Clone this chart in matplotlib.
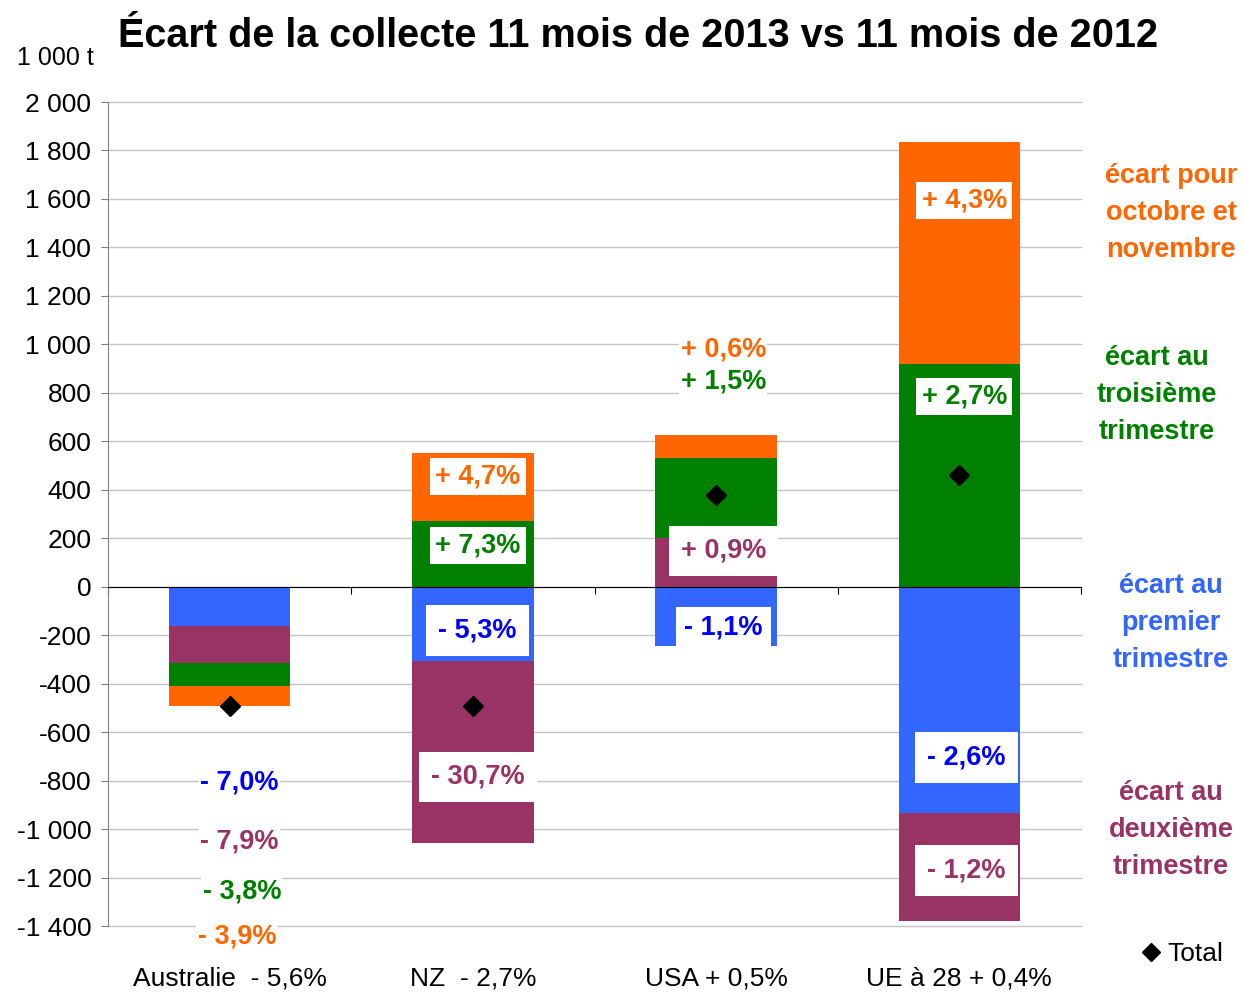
import numpy as np
import matplotlib.pyplot as plt

plt.rcParams['font.family'] = ['Liberation Sans', 'DejaVu Sans']

# milliers de tonnes
categories = ['Australie  - 5,6%', 'NZ  - 2,7%', 'USA + 0,5%', 'UE à 28 + 0,4%']
q1 = [-164, -305, -246, -932]
q2 = [-152, -751, 203, -449]
q3 = [-95, 272, 330, 920]
octnov = [-82, 281, 94, 915]
total = [-493, -491, 379, 462]

q1_lbl = ['- 7,0%', '- 5,3%', '- 1,1%', '- 2,6%']
q2_lbl = ['- 7,9%', '- 30,7%', '+ 0,9%', '- 1,2%']
q3_lbl = ['- 3,8%', '+ 7,3%', '+ 1,5%', '+ 2,7%']
on_lbl = ['- 3,9%', '+ 4,7%', '+ 0,6%', '+ 4,3%']

bar_colors = ['#3366FF', '#993366', '#008000', '#FF6600']
txt_colors = ['#0000FF', '#993366', '#008000', '#FF6600']

# placement des etiquettes (x, y, marge du cadre blanc)
lbl_pos = [
    [(0.04, -808, 0.05), (1.02, -181, 0.45), (2.03, -169, 0.3), (3.03, -705, 0.45)],
    [(0.04, -1052, 0.05), (1.02, -784, 0.45), (2.03, 148, 0.45), (3.03, -1171, 0.45)],
    [(0.05, -1258, 0.05), (1.02, 169, 0.2), (2.03, 845, 0.05), (3.02, 784, 0.2)],
    [(0.03, -1443, 0.05), (1.02, 454, 0.2), (2.03, 977, 0.05), (3.02, 1592, 0.2)],
]

fig = plt.figure(figsize=(12.45, 9.92), dpi=100)
ax = fig.add_axes([108 / 1245, 66 / 992, 973 / 1245, 824 / 992])

x = np.arange(len(categories))
pos = np.zeros(len(x))
neg = np.zeros(len(x))
for vals, col in zip([q1, q2, q3, octnov], bar_colors):
    vals = np.array(vals, dtype=float)
    base = np.where(vals >= 0, pos, neg)
    ax.bar(x, vals, 0.5, bottom=base, color=col, zorder=2)
    pos += np.clip(vals, 0, None)
    neg += np.clip(vals, None, 0)

tot_line, = ax.plot(x, total, 'D', color='black', ms=10, zorder=6, label='Total')

for labels, col, layout in zip([q1_lbl, q2_lbl, q3_lbl, on_lbl], txt_colors, lbl_pos):
    for lab, (lx, ly, pad) in zip(labels, layout):
        ax.text(lx, ly, lab, color=col, fontsize=19.5, fontweight='bold',
                ha='center', va='center', zorder=5,
                bbox=dict(boxstyle='square,pad=%s' % pad, fc='white', ec='none'))

ax.set_xlim(-0.5, 3.5)
ax.set_ylim(-1400, 2000)
ax.set_yticks(range(-1400, 2001, 200))
ax.set_yticklabels([f'{v:,}'.replace(',', ' ') for v in range(-1400, 2001, 200)])
ax.yaxis.grid(True, color='#c4c4c4', lw=1)
ax.set_axisbelow(True)
for gl in ax.get_ygridlines():
    gl.set_clip_on(False)

ax.spines['top'].set_visible(False)
ax.spines['right'].set_visible(False)
ax.spines['left'].set_color('#808080')
ax.spines['bottom'].set_position(('data', 0))
ax.spines['bottom'].set_color('black')
ax.spines['bottom'].set_zorder(4)

ax.set_xticks([-0.5, 0.5, 1.5, 2.5, 3.5])
ax.set_xticklabels([])
ax.tick_params(axis='x', direction='out', length=5, color='black')
ax.tick_params(axis='y', direction='out', length=5, color='#808080', labelsize=19, pad=7)

for i, name in enumerate(categories):
    ax.annotate(name, (i, 0), xycoords=('data', 'axes fraction'), xytext=(0, -38),
                textcoords='offset points', ha='center', va='center', fontsize=19)

fig.text(55 / 1245, 1 - 58 / 992, '1 000 t', fontsize=18, ha='center', va='center')
fig.text(638 / 1245, 1 - 36 / 992, 'Écart de la collecte 11 mois de 2013 vs 11 mois de 2012',
         fontsize=28.5, fontweight='bold', ha='center', va='center')

side_notes = [
    ('écart pour\noctobre et\nnovembre', '#FF6600', 1171, 213),
    ('écart au\ntroisième\ntrimestre', '#008000', 1157, 395),
    ('écart au\npremier\ntrimestre', '#3366FF', 1171, 623),
    ('écart au\ndeuxième\ntrimestre', '#993366', 1171, 830),
]
for txt, col, px, py in side_notes:
    fig.text(px / 1245, 1 - py / 992, txt, color=col, fontsize=19.5, fontweight='bold',
             ha='center', va='center', linespacing=1.55)

fig.legend(handles=[tot_line], loc='center', bbox_to_anchor=(1182 / 1245, 1 - 954 / 992),
           frameon=False, fontsize=19, handletextpad=0.2, handlelength=0.8, markerscale=0.9)

fig.savefig('out.png', dpi=100)
